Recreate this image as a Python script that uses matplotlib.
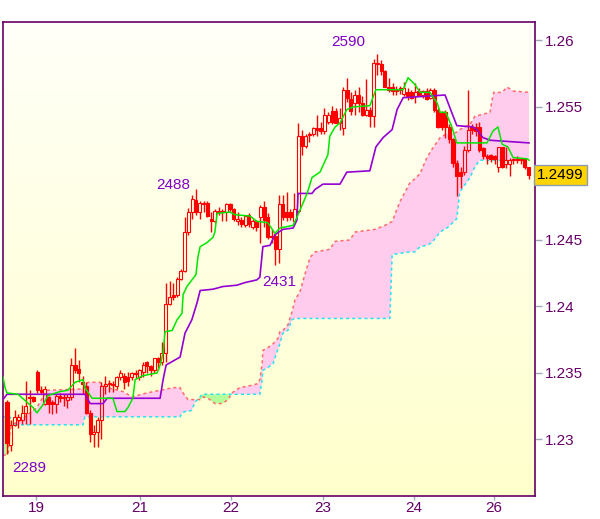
import numpy as np
import matplotlib
matplotlib.use("Agg")
import matplotlib.pyplot as plt
from matplotlib.patches import Rectangle

# hourly candles (open, high, low, close)
opens = [1.2328, 1.2296, 1.2311, 1.2315, 1.2315, 1.2320, 1.2332, 1.2332, 1.2351, 1.2337,
         1.2327, 1.2332, 1.2328, 1.2327, 1.2333, 1.2331, 1.2330, 1.2332, 1.2356, 1.2353,
         1.2343, 1.2340, 1.2320, 1.2304, 1.2306, 1.2315, 1.2340, 1.2342, 1.2342, 1.2340,
         1.2347, 1.2348, 1.2347, 1.2347, 1.2350, 1.2347, 1.2351, 1.2358, 1.2355, 1.2352,
         1.2361, 1.2358, 1.2365, 1.2402, 1.2409, 1.2409, 1.2421, 1.2427, 1.2456, 1.2471,
         1.2480, 1.2471, 1.2477, 1.2478, 1.2466, 1.2464, 1.2471, 1.2472, 1.2471, 1.2477,
         1.2473, 1.2464, 1.2465, 1.2461, 1.2469, 1.2460, 1.2464, 1.2467, 1.2475, 1.2467,
         1.2452, 1.2453, 1.2443, 1.2477, 1.2471, 1.2471, 1.2464, 1.2472, 1.2528, 1.2521,
         1.2529, 1.2530, 1.2534, 1.2534, 1.2532, 1.2539, 1.2547, 1.2547, 1.2538, 1.2534,
         1.2563, 1.2556, 1.2553, 1.2559, 1.2553, 1.2544, 1.2548, 1.2543, 1.2583, 1.2582,
         1.2577, 1.2565, 1.2565, 1.2563, 1.2563, 1.2560, 1.2561, 1.2561, 1.2558, 1.2562,
         1.2559, 1.2562, 1.2557, 1.2563, 1.2548, 1.2546, 1.2546, 1.2535, 1.2526, 1.2508,
         1.2501, 1.2501, 1.2518, 1.2535, 1.2535, 1.2535, 1.2519, 1.2513, 1.2514, 1.2513,
         1.2505, 1.2520, 1.2507, 1.2507, 1.2510, 1.2511, 1.2510, 1.2511, 1.2505]
highs = [1.2330, 1.2315, 1.2322, 1.2319, 1.2326, 1.2344, 1.2337, 1.2333, 1.2352, 1.2340,
         1.2340, 1.2333, 1.2330, 1.2334, 1.2335, 1.2334, 1.2334, 1.2361, 1.2369, 1.2360,
         1.2348, 1.2343, 1.2322, 1.2311, 1.2317, 1.2343, 1.2348, 1.2345, 1.2344, 1.2348,
         1.2352, 1.2350, 1.2351, 1.2351, 1.2352, 1.2353, 1.2358, 1.2359, 1.2356, 1.2361,
         1.2362, 1.2373, 1.2418, 1.2419, 1.2418, 1.2422, 1.2428, 1.2467, 1.2474, 1.2484,
         1.2488, 1.2479, 1.2479, 1.2479, 1.2471, 1.2473, 1.2475, 1.2473, 1.2478, 1.2478,
         1.2474, 1.2471, 1.2467, 1.2469, 1.2470, 1.2466, 1.2465, 1.2476, 1.2479, 1.2470,
         1.2458, 1.2455, 1.2484, 1.2484, 1.2486, 1.2473, 1.2485, 1.2538, 1.2533, 1.2530,
         1.2531, 1.2535, 1.2544, 1.2539, 1.2549, 1.2546, 1.2551, 1.2549, 1.2549, 1.2565,
         1.2572, 1.2561, 1.2563, 1.2565, 1.2558, 1.2571, 1.2550, 1.2586, 1.2590, 1.2585,
         1.2578, 1.2572, 1.2568, 1.2566, 1.2566, 1.2569, 1.2564, 1.2563, 1.2568, 1.2564,
         1.2563, 1.2564, 1.2564, 1.2564, 1.2549, 1.2547, 1.2548, 1.2537, 1.2527, 1.2510,
         1.2505, 1.2521, 1.2563, 1.2537, 1.2538, 1.2539, 1.2520, 1.2515, 1.2515, 1.2514,
         1.2520, 1.2520, 1.2520, 1.2512, 1.2512, 1.2513, 1.2512, 1.2512, 1.2505]
lows = [1.2289, 1.2291, 1.2310, 1.2309, 1.2312, 1.2312, 1.2312, 1.2328, 1.2335, 1.2334,
        1.2326, 1.2320, 1.2319, 1.2320, 1.2328, 1.2325, 1.2324, 1.2330, 1.2350, 1.2343,
        1.2334, 1.2319, 1.2298, 1.2294, 1.2294, 1.2300, 1.2334, 1.2336, 1.2336, 1.2338,
        1.2345, 1.2338, 1.2340, 1.2345, 1.2346, 1.2345, 1.2347, 1.2350, 1.2348, 1.2350,
        1.2352, 1.2356, 1.2358, 1.2401, 1.2405, 1.2407, 1.2420, 1.2426, 1.2454, 1.2466,
        1.2469, 1.2466, 1.2471, 1.2467, 1.2456, 1.2463, 1.2469, 1.2464, 1.2464, 1.2471,
        1.2464, 1.2461, 1.2460, 1.2460, 1.2460, 1.2458, 1.2457, 1.2448, 1.2460, 1.2451,
        1.2448, 1.2431, 1.2433, 1.2465, 1.2464, 1.2465, 1.2461, 1.2470, 1.2514, 1.2519,
        1.2524, 1.2528, 1.2528, 1.2530, 1.2530, 1.2537, 1.2537, 1.2538, 1.2533, 1.2529,
        1.2554, 1.2544, 1.2544, 1.2546, 1.2543, 1.2543, 1.2535, 1.2535, 1.2574, 1.2574,
        1.2565, 1.2561, 1.2559, 1.2559, 1.2560, 1.2558, 1.2555, 1.2556, 1.2553, 1.2558,
        1.2557, 1.2555, 1.2556, 1.2546, 1.2534, 1.2533, 1.2527, 1.2523, 1.2505, 1.2483,
        1.2489, 1.2499, 1.2516, 1.2530, 1.2528, 1.2516, 1.2511, 1.2507, 1.2509, 1.2507,
        1.2501, 1.2504, 1.2504, 1.2498, 1.2507, 1.2508, 1.2507, 1.2503, 1.2496]
closes = [1.2297, 1.2311, 1.2317, 1.2317, 1.2320, 1.2325, 1.2331, 1.2329, 1.2337, 1.2336,
          1.2338, 1.2327, 1.2327, 1.2333, 1.2331, 1.2332, 1.2332, 1.2356, 1.2352, 1.2350,
          1.2342, 1.2320, 1.2304, 1.2306, 1.2315, 1.2340, 1.2342, 1.2342, 1.2341, 1.2347,
          1.2350, 1.2343, 1.2344, 1.2350, 1.2349, 1.2352, 1.2356, 1.2355, 1.2352, 1.2361,
          1.2358, 1.2365, 1.2402, 1.2407, 1.2407, 1.2421, 1.2427, 1.2456, 1.2471, 1.2481,
          1.2471, 1.2478, 1.2478, 1.2468, 1.2464, 1.2472, 1.2472, 1.2471, 1.2477, 1.2473,
          1.2466, 1.2466, 1.2462, 1.2468, 1.2462, 1.2464, 1.2460, 1.2475, 1.2465, 1.2452,
          1.2453, 1.2443, 1.2477, 1.2467, 1.2467, 1.2467, 1.2473, 1.2528, 1.2521, 1.2528,
          1.2530, 1.2534, 1.2533, 1.2532, 1.2544, 1.2544, 1.2539, 1.2538, 1.2542, 1.2563,
          1.2557, 1.2547, 1.2559, 1.2553, 1.2544, 1.2548, 1.2543, 1.2583, 1.2582, 1.2577,
          1.2565, 1.2563, 1.2562, 1.2562, 1.2564, 1.2564, 1.2558, 1.2557, 1.2561, 1.2559,
          1.2562, 1.2556, 1.2563, 1.2548, 1.2535, 1.2535, 1.2535, 1.2526, 1.2508, 1.2498,
          1.2498, 1.2518, 1.2533, 1.2533, 1.2532, 1.2518, 1.2513, 1.2512, 1.2511, 1.2511,
          1.2520, 1.2505, 1.2510, 1.2510, 1.2511, 1.2510, 1.2511, 1.2505, 1.2499]

# tenkan-sen (green)
tenkan_x = [-1.06, -0.53, 0, 2.9, 6.9, 7.9, 9.5, 10.8, 14.0, 16.1, 18.0, 20.1, 20.6, 22.5,
            28.0, 29.1, 31.2, 32.0, 33.3, 33.9, 36.0, 39.7, 40.5, 41.3, 41.8, 43.7, 45.0,
            46.3, 46.6, 47.6, 50.0, 50.5, 51.1, 52.9, 54.5, 55.0, 55.6, 59.0, 60.3, 64.3,
            66.1, 69.0, 70.9, 72.2, 75.7, 76.7, 79.4, 80.7, 82.8, 84.9, 85.4, 86.8, 88.1,
            89.9, 91.5, 96.0, 97.6, 104.8, 106.1, 107.9, 109.3, 111.9, 113.8, 114.6, 116.1,
            117.7, 119.0, 127.0, 128.6, 129.9, 131.0, 132.5, 133.9, 137.6, 138.1]
tenkan = [1.2347, 1.2339, 1.2335, 1.2334, 1.2324, 1.2320, 1.2326, 1.2333, 1.2336, 1.2337,
          1.2343, 1.2345, 1.2339, 1.2331, 1.2331, 1.2321, 1.2321, 1.2324, 1.2331, 1.2345,
          1.2348, 1.2350, 1.2356, 1.2365, 1.2381, 1.2382, 1.2390, 1.2395, 1.2409, 1.2415,
          1.2424, 1.2437, 1.2445, 1.2448, 1.2452, 1.2456, 1.2470, 1.2471, 1.2469, 1.2468,
          1.2464, 1.2463, 1.2455, 1.2459, 1.2461, 1.2467, 1.2485, 1.2497, 1.2501, 1.2514,
          1.2528, 1.2535, 1.2538, 1.2548, 1.2550, 1.2551, 1.2563, 1.2563, 1.2572, 1.2567,
          1.2561, 1.2561, 1.2553, 1.2546, 1.2546, 1.2535, 1.2523, 1.2523, 1.2532, 1.2535,
          1.2522, 1.2520, 1.2512, 1.2511, 1.2510]

# kijun-sen (purple)
kijun_x = [-1.06, 0, 20.6, 22.0, 25.4, 26.5, 40.5, 41.3, 42.1, 45.8, 47.1, 48.9, 50.3, 51.1,
           54.5, 57.1, 60.8, 63.0, 66.1, 66.9, 67.7, 69.6, 70.9, 73.0, 75.7, 76.7, 77.0,
           80.7, 81.5, 83.6, 88.1, 89.9, 96.0, 97.6, 99.5, 101.9, 103.2, 104.8, 115.9,
           119.0, 123.3, 124.3, 125.9, 127.8, 138.1]
kijun = [1.2330, 1.2334, 1.2334, 1.2327, 1.2327, 1.2331, 1.2331, 1.2345, 1.2356, 1.2362,
         1.2380, 1.2390, 1.2403, 1.2412, 1.2413, 1.2415, 1.2416, 1.2418, 1.2420, 1.2422,
         1.2445, 1.2446, 1.2454, 1.2458, 1.2459, 1.2465, 1.2485, 1.2485, 1.2488, 1.2492,
         1.2492, 1.2501, 1.2502, 1.2520, 1.2527, 1.2533, 1.2548, 1.2557, 1.2559, 1.2536,
         1.2535, 1.2533, 1.2527, 1.2525, 1.2523]

# senkou span A / B (cloud)
cloud_x = [-1.1, 0.3, 0.8, 1.3, 3.4, 6.1, 7.9, 9.5, 10.6, 20.1, 20.6, 21.4, 24.6, 26.5, 30.7,
           33.1, 37.0, 42.3, 43.9, 45.8, 46.3, 47.1, 47.9, 48.9, 49.7, 51.1, 51.6, 51.9,
           53.2, 55.0, 56.9, 58.5, 59.5, 61.6, 63.5, 65.1, 66.4, 66.9, 67.5, 67.7, 69.0,
           70.4, 71.7, 72.2, 73.0, 74.3, 75.4, 76.2, 77.5, 78.8, 80.2, 81.5, 85.4, 86.8,
           90.7, 92.1, 97.4, 100.0, 101.3, 101.9, 104.0, 106.6, 107.9, 109.3, 111.1, 112.4,
           114.6, 116.4, 117.2, 119.0, 119.8, 122.5, 123.8, 125.1, 127.8, 128.3, 128.8,
           131.0, 132.3, 133.9, 138.1]
span_a = [1.2288, 1.2289, 1.2307, 1.2311, 1.2314, 1.2320, 1.2324, 1.2332, 1.2337, 1.2338,
          1.2340, 1.2343, 1.2343, 1.2339, 1.2336, 1.2332, 1.2335, 1.2338, 1.2339, 1.2339,
          1.2336, 1.2333, 1.2330, 1.2330, 1.2330, 1.2330, 1.2331, 1.2332, 1.2331, 1.2327,
          1.2327, 1.2330, 1.2335, 1.2339, 1.2340, 1.2341, 1.2342, 1.2345, 1.2357, 1.2367,
          1.2369, 1.2372, 1.2376, 1.2381, 1.2382, 1.2386, 1.2396, 1.2405, 1.2411, 1.2424,
          1.2437, 1.2441, 1.2443, 1.2449, 1.2450, 1.2456, 1.2458, 1.2461, 1.2463, 1.2464,
          1.2479, 1.2493, 1.2496, 1.2500, 1.2512, 1.2518, 1.2527, 1.2530, 1.2530, 1.2531,
          1.2533, 1.2537, 1.2543, 1.2544, 1.2546, 1.2555, 1.2561, 1.2561, 1.2565, 1.2562,
          1.2561]
span_b = [1.2317, 1.2317, 1.2317, 1.2311, 1.2311, 1.2311, 1.2311, 1.2311, 1.2311, 1.2311,
          1.2317, 1.2317, 1.2317, 1.2317, 1.2317, 1.2317, 1.2317, 1.2317, 1.2317, 1.2317,
          1.2320, 1.2321, 1.2321, 1.2322, 1.2328, 1.2332, 1.2334, 1.2334, 1.2334, 1.2334,
          1.2334, 1.2334, 1.2334, 1.2334, 1.2334, 1.2334, 1.2334, 1.2334, 1.2345, 1.2352,
          1.2354, 1.2357, 1.2368, 1.2372, 1.2380, 1.2382, 1.2390, 1.2391, 1.2391, 1.2391,
          1.2391, 1.2391, 1.2391, 1.2391, 1.2391, 1.2391, 1.2391, 1.2391, 1.2391, 1.2439,
          1.2440, 1.2441, 1.2441, 1.2445, 1.2446, 1.2448, 1.2456, 1.2459, 1.2461, 1.2466,
          1.2486, 1.2497, 1.2505, 1.2510, 1.2510, 1.2510, 1.2510, 1.2510, 1.2510, 1.2510,
          1.2510]

day_pos = [7.7, 35.2, 59.3, 83.6, 107.7, 128.8]
day_labels = ['19', '21', '22', '23', '24', '26']
price_ticks = [1.23, 1.235, 1.24, 1.245, 1.255, 1.26]
price_labels = ['1.23', '1.235', '1.24', '1.245', '1.255', '1.26']

# extreme labels: (bar position, price, text)
marks_x = [5.8, 43.9, 72.0, 90.2]
marks_y = [1.22785, 1.24914, 1.24184, 1.25992]
marks_txt = ['2289', '2488', '2431', '2590']
last_price = 1.2499

plt.rcParams['font.family'] = ['Liberation Sans', 'DejaVu Sans']

fig = plt.figure(figsize=(6.0, 5.19), dpi=100)
ax = fig.add_axes([0.005, 0.0443, 0.8867, 0.9133])
x0, x1 = -1.06, 139.7
y0, y1 = 1.22575, 1.26139
ax.set_xlim(x0, x1)
ax.set_ylim(y0, y1)

# background gradient (white-ish at top to pale yellow)
grad = np.linspace(0, 1, 256)[:, None]
top = np.array([1.0, 1.0, 0.975])
bot = np.array([1.0, 1.0, 0.80])
img = top[None, None, :] * (1 - grad[..., None]) + bot[None, None, :] * grad[..., None]
ax.imshow(img, extent=[x0, x1, y0, y1], aspect='auto', origin='upper', zorder=0)

cx = np.array(cloud_x)
sa = np.array(span_a)
sb = np.array(span_b)
ax.fill_between(cx, sa, sb, where=sa >= sb, interpolate=True, color='#ffccee', lw=0, zorder=1)
ax.fill_between(cx, sa, sb, where=sa < sb, interpolate=True, color='#b4ff99', lw=0, zorder=1)
ax.plot(cx, sa, color='#ff6a6a', lw=1.1, dashes=(2, 2), zorder=2)
ax.plot(cx, sb, color='#22e5f0', lw=1.1, dashes=(2, 2), zorder=2)

# candles
red = '#ff0000'
w = 0.8
for i in range(len(opens)):
    o, h, l, c = opens[i], highs[i], lows[i], closes[i]
    top_b, bot_b = max(o, c), min(o, c)
    ax.plot([i, i], [top_b, h], color=red, lw=1, zorder=3, solid_capstyle='butt')
    ax.plot([i, i], [l, bot_b], color=red, lw=1, zorder=3, solid_capstyle='butt')
    hgt = max(top_b - bot_b, 0.00003)
    if c < o:
        ax.add_patch(Rectangle((i - w / 2, bot_b), w, hgt, facecolor=red,
                               edgecolor=red, lw=0.8, zorder=3))
    else:
        ax.add_patch(Rectangle((i - w / 2, bot_b), w, hgt, facecolor='none',
                               edgecolor=red, lw=0.8, zorder=3))

ax.plot(kijun_x, kijun, color='#9400d3', lw=1.2, zorder=4)
ax.plot(tenkan_x, tenkan, color='#00e600', lw=1.1, zorder=5)

for mx, my, mt in zip(marks_x, marks_y, marks_txt):
    ax.text(mx, my, mt, color='#8000c8', fontsize=11, ha='center', va='center', zorder=6)

# axes styling
for s in ax.spines.values():
    s.set_color('#660066')
    s.set_linewidth(1.2)
ax.yaxis.tick_right()
ax.set_yticks(price_ticks)
ax.set_yticklabels(price_labels)
ax.set_xticks(day_pos)
ax.set_xticklabels(day_labels)
ax.tick_params(axis='both', colors='#9aa8b8', labelcolor='#660066', labelsize=11,
               width=1, direction='out')
ax.tick_params(axis='y', length=5, pad=2)
ax.tick_params(axis='x', length=3, pad=0.5)

ax.text(1.004, last_price, '1.2499', transform=ax.get_yaxis_transform(), fontsize=11,
        color='black', ha='left', va='center', clip_on=False, zorder=7,
        bbox=dict(boxstyle='square,pad=0.2', fc='#ffd400', ec='#8c9cb0', lw=1))

fig.savefig('out.png', dpi=100)
